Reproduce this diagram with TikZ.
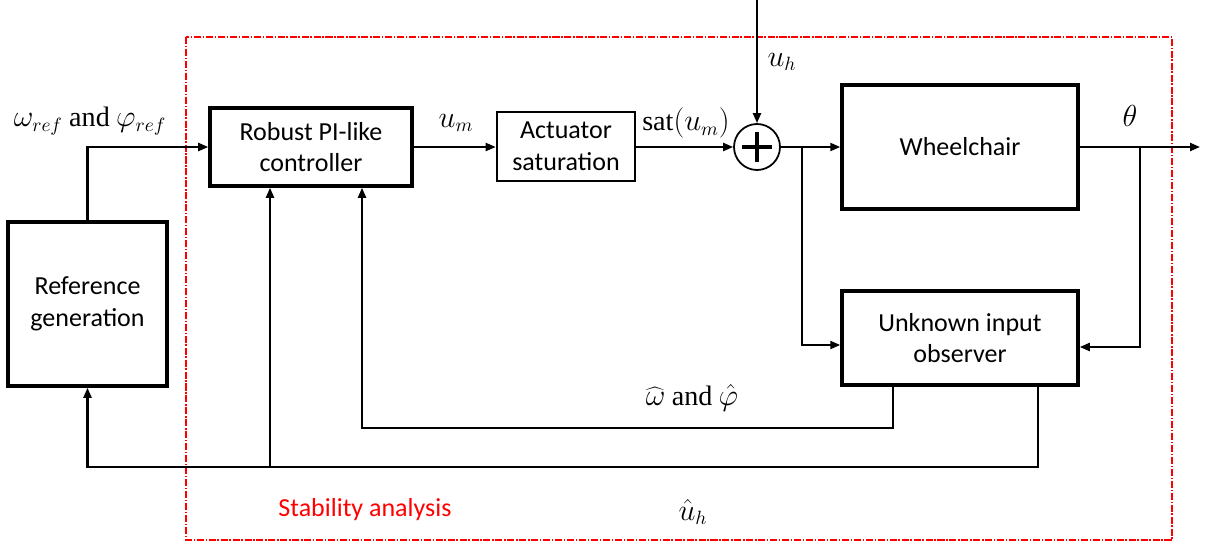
\documentclass[tikz,border=0pt]{standalone}
\usepackage{fontspec}
\setmainfont{Carlito}
\newfontfamily\andfont{Liberation Serif}
\usetikzlibrary{arrows.meta,fit,positioning}
\begin{document}
\begin{tikzpicture}[x=0.02cm,y=-0.02cm,
  every node/.style={font=\fontsize{14.8}{18}\selectfont},
  mathlab/.style={font=\fontsize{16}{19}\selectfont},
  thickbox/.style={draw,line width=2pt,inner sep=0pt,align=center},
  thinbox/.style={draw,line width=1.5pt,inner sep=0pt,align=center},
  conn/.style={line width=1.2pt},
  arr/.style={conn,-{Triangle[length=0.2cm,width=0.16cm]}},
  redbox/.style={draw=red,line width=0.7pt,dash pattern=on 4pt off 1pt on 0.8pt off 1pt}]
\useasboundingbox (0,0) rectangle (1210,544);
\draw[redbox] (186,37) rectangle (1172,540);
% blocks
\node[thickbox,fit={(8,222)(167,386)}] (ref) {};
\node at (ref.center) [align=center] {Reference\\generation};
\node[thickbox,fit={(210,108)(412,186)}] (pi) {};
\node at (pi.center) [align=center] {Robust PI-like\\controller};
\node[thinbox,fit={(497,112)(635,181)}] (act) {};
\node at (act.center) [align=center] {Actuator\\saturation};
\node[draw,circle,line width=1pt,minimum size=0.92cm,inner sep=0pt] (sum) at (757,147) {};
\draw[line width=2.8pt] (742,147) -- (772,147) (757,132) -- (757,162);
\node[thickbox,fit={(842,85)(1078,209)}] (wc) {};
\node at (wc.center) {Wheelchair};
\node[thickbox,fit={(842,291)(1078,385)}] (uio) {};
\node at (uio.center) [align=center] {Unknown input\\observer};
% coordinates
\coordinate (uhtop) at (757,0);
\coordinate (out) at (1200,147);
\coordinate (b1) at (802,147);
\coordinate (b2) at (1140,147);
\coordinate (xa) at (893,0);
\coordinate (xb) at (1038,0);
\coordinate (xc) at (362,0);
\coordinate (xd) at (270,0);
\coordinate (ya) at (0,428);
\coordinate (yb) at (0,467);
% connectors
\draw[arr] (ref.north) |- (pi.west);
\draw[arr] (pi.east) -- (act.west |- pi.east);
\draw[arr] (act.east |- sum.west) -- (sum.west);
\draw[arr] (uhtop) -- (sum.north);
\draw[arr] (sum.east) -- (wc.west |- sum.east);
\draw[arr] (wc.east |- out) -- (out);
\draw[arr] (b1) |- ([yshift=-0.14cm]uio.west);
\draw[arr] (b2) |- ([yshift=-0.18cm]uio.east);
\draw[arr] (uio.south -| xa) -- (xa |- ya) -| (pi.south -| xc);
\draw[arr] (uio.south -| xb) -- (xb |- yb) -| (ref.south);
\draw[arr] (xd |- yb) -- (pi.south -| xd);
% labels
\node[mathlab] at (90,121) {$\omega_{ref}$ {\andfont and} $\varphi_{ref}$};
\node[mathlab] at (456,123) {$u_m$};
\node[mathlab] at (686,123) {{\andfont sat}$(u_m)$};
\node[mathlab] at (782,62) {$u_h$};
\node[mathlab] at (1130,116) {$\theta$};
\node[mathlab] at (692,398) {$\widehat{\omega}$ {\andfont and} $\hat{\varphi}$};
\node[mathlab] at (693,512) {$\hat{u}_h$};
\node[text=red] at (365,510) {Stability analysis};
\end{tikzpicture}
\end{document}
